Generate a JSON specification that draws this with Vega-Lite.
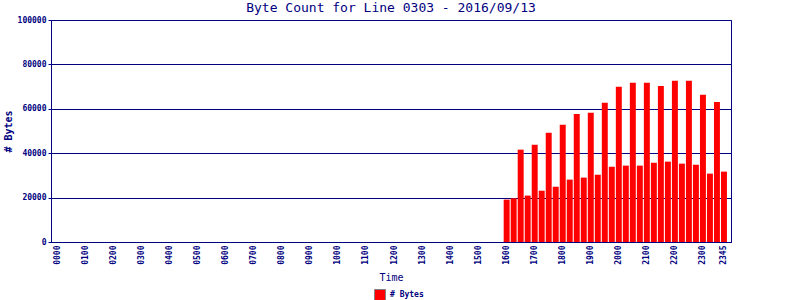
{
  "$schema": "https://vega.github.io/schema/vega-lite/v6.json",
  "autosize": {"type": "none"},
  "padding": {"left": 51, "top": 20, "right": 69, "bottom": 58},
  "width": 680,
  "height": 222,
  "background": "white",
  "title": {
    "text": "Byte Count for Line 0303 - 2016/09/13",
    "font": "DejaVu Sans Mono",
    "fontSize": 13,
    "fontWeight": "normal",
    "color": "#000080",
    "anchor": "middle",
    "offset": 1
  },
  "config": {
    "view": {"stroke": "#000080", "strokeWidth": 1}
  },
  "data": {
    "values": [
      {"time": "0000", "bytes": 0}, {"time": "0015", "bytes": 0}, {"time": "0030", "bytes": 0}, {"time": "0045", "bytes": 0},
      {"time": "0100", "bytes": 0}, {"time": "0115", "bytes": 0}, {"time": "0130", "bytes": 0}, {"time": "0145", "bytes": 0},
      {"time": "0200", "bytes": 0}, {"time": "0215", "bytes": 0}, {"time": "0230", "bytes": 0}, {"time": "0245", "bytes": 0},
      {"time": "0300", "bytes": 0}, {"time": "0315", "bytes": 0}, {"time": "0330", "bytes": 0}, {"time": "0345", "bytes": 0},
      {"time": "0400", "bytes": 0}, {"time": "0415", "bytes": 0}, {"time": "0430", "bytes": 0}, {"time": "0445", "bytes": 0},
      {"time": "0500", "bytes": 0}, {"time": "0515", "bytes": 0}, {"time": "0530", "bytes": 0}, {"time": "0545", "bytes": 0},
      {"time": "0600", "bytes": 0}, {"time": "0615", "bytes": 0}, {"time": "0630", "bytes": 0}, {"time": "0645", "bytes": 0},
      {"time": "0700", "bytes": 0}, {"time": "0715", "bytes": 0}, {"time": "0730", "bytes": 0}, {"time": "0745", "bytes": 0},
      {"time": "0800", "bytes": 0}, {"time": "0815", "bytes": 0}, {"time": "0830", "bytes": 0}, {"time": "0845", "bytes": 0},
      {"time": "0900", "bytes": 0}, {"time": "0915", "bytes": 0}, {"time": "0930", "bytes": 0}, {"time": "0945", "bytes": 0},
      {"time": "1000", "bytes": 0}, {"time": "1015", "bytes": 0}, {"time": "1030", "bytes": 0}, {"time": "1045", "bytes": 0},
      {"time": "1100", "bytes": 0}, {"time": "1115", "bytes": 0}, {"time": "1130", "bytes": 0}, {"time": "1145", "bytes": 0},
      {"time": "1200", "bytes": 0}, {"time": "1215", "bytes": 0}, {"time": "1230", "bytes": 0}, {"time": "1245", "bytes": 0},
      {"time": "1300", "bytes": 0}, {"time": "1315", "bytes": 0}, {"time": "1330", "bytes": 0}, {"time": "1345", "bytes": 0},
      {"time": "1400", "bytes": 0}, {"time": "1415", "bytes": 0}, {"time": "1430", "bytes": 0}, {"time": "1445", "bytes": 0},
      {"time": "1500", "bytes": 0}, {"time": "1515", "bytes": 0}, {"time": "1530", "bytes": 0}, {"time": "1545", "bytes": 0},
      {"time": "1600", "bytes": 19100}, {"time": "1615", "bytes": 19700}, {"time": "1630", "bytes": 41600}, {"time": "1645", "bytes": 20900},
      {"time": "1700", "bytes": 43800}, {"time": "1715", "bytes": 23100}, {"time": "1730", "bytes": 49200}, {"time": "1745", "bytes": 24900},
      {"time": "1800", "bytes": 52800}, {"time": "1815", "bytes": 28100}, {"time": "1830", "bytes": 57700}, {"time": "1845", "bytes": 29000},
      {"time": "1900", "bytes": 58200}, {"time": "1915", "bytes": 30300}, {"time": "1930", "bytes": 62700}, {"time": "1945", "bytes": 33900},
      {"time": "2000", "bytes": 69900}, {"time": "2015", "bytes": 34400}, {"time": "2030", "bytes": 71700}, {"time": "2045", "bytes": 34400},
      {"time": "2100", "bytes": 71700}, {"time": "2115", "bytes": 35700}, {"time": "2130", "bytes": 70300}, {"time": "2145", "bytes": 36200},
      {"time": "2200", "bytes": 72600}, {"time": "2215", "bytes": 35300}, {"time": "2230", "bytes": 72600}, {"time": "2245", "bytes": 34800},
      {"time": "2300", "bytes": 66300}, {"time": "2315", "bytes": 30800}, {"time": "2330", "bytes": 63100}, {"time": "2345", "bytes": 31700}
    ]
  },
  "mark": {"type": "bar"},
  "encoding": {
    "x": {
      "field": "time",
      "type": "ordinal",
      "sort": null,
      "scale": {"paddingInner": 0.15, "paddingOuter": 0.58},
      "axis": {
        "title": "Time",
        "values": ["0000","0100","0200","0300","0400","0500","0600","0700","0800","0900","1000","1100","1200","1300","1400","1500","1600","1700","1800","1900","2000","2100","2200","2300","2345"],
        "labelAngle": 270,
        "labelFont": "DejaVu Sans Mono",
        "labelFontSize": 8,
        "labelFontWeight": "bold",
        "labelColor": "#000080",
        "labelPadding": 3,
        "ticks": false,
        "domainColor": "#000080",
        "domainWidth": 1,
        "titleFont": "DejaVu Sans Mono",
        "titleFontSize": 10,
        "titleFontWeight": "normal",
        "titleColor": "#000080",
        "titlePadding": 8
      }
    },
    "y": {
      "field": "bytes",
      "type": "quantitative",
      "scale": {"domain": [0, 100000], "nice": false},
      "axis": {
        "title": "# Bytes",
        "values": [0, 20000, 40000, 60000, 80000, 100000],
        "format": "d",
        "labelFont": "DejaVu Sans Mono",
        "labelFontSize": 8,
        "labelFontWeight": "bold",
        "labelColor": "#000080",
        "labelPadding": 2,
        "tickColor": "#000080",
        "tickSize": 3,
        "domainColor": "#000080",
        "grid": true,
        "gridColor": "#000080",
        "gridOpacity": 1,
        "gridWidth": 1,
        "titleFont": "DejaVu Sans Mono",
        "titleFontSize": 10,
        "titleFontWeight": "bold",
        "titleColor": "#000080",
        "titleX": -43,
        "titleY": 111,
        "titleAngle": 270,
        "titleBaseline": "middle",
        "titleAlign": "center"
      }
    },
    "color": {
      "datum": "# Bytes",
      "type": "nominal",
      "scale": {"range": ["#ff0000"]},
      "legend": {
        "title": null,
        "orient": "none",
        "legendX": 323,
        "legendY": 269,
        "direction": "horizontal",
        "symbolType": "square",
        "symbolSize": 120,
        "symbolStrokeColor": "#808080",
        "symbolStrokeWidth": 1,
        "symbolOpacity": 1,
        "labelFont": "DejaVu Sans Mono",
        "labelFontSize": 8,
        "labelFontWeight": "bold",
        "labelColor": "#000080",
        "labelOffset": 4
      }
    }
  }
}
